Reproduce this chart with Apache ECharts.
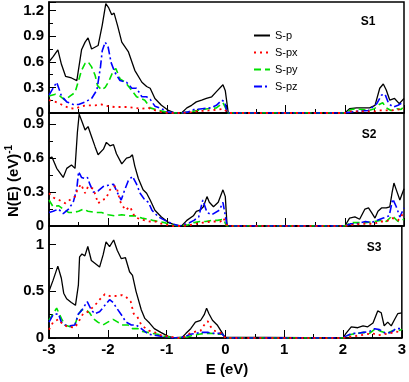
<!DOCTYPE html>
<html><head><meta charset="utf-8">
<script src="https://cdn.jsdelivr.net/npm/echarts@6/dist/echarts.min.js"></script>
<style>html,body{margin:0;padding:0;background:#fff}#c{width:409px;height:382px}</style>
</head><body><div id="c"></div>
<script>
// ---- data: [E (eV), N(E)] ----
var seriesNames = ['S-p', 'S-px', 'S-py', 'S-pz'];
var panelLabels = ['S1', 'S2', 'S3'];
var xTicks = { min: -3, max: 3, interval: 1 };
var yRanges = [ {max: 1.3, interval: 0.3}, {max: 1.0, interval: 0.3}, {max: 1.2, interval: 0.5} ];

var s1_p = [[-3.0,0.60],[-2.93,0.66],[-2.85,0.74],[-2.79,0.57],[-2.72,0.43],[-2.62,0.41],[-2.53,0.38],[-2.45,0.74],[-2.39,0.83],[-2.34,0.88],[-2.28,0.75],[-2.17,0.79],[-2.10,1.03],[-2.04,1.28],[-1.99,1.23],[-1.94,1.15],[-1.90,1.17],[-1.84,1.02],[-1.77,0.83],[-1.66,0.72],[-1.55,0.50],[-1.43,0.36],[-1.35,0.31],[-1.29,0.29],[-1.21,0.17],[-1.10,0.09],[-0.98,0.03],[-0.87,0],[-0.76,0],[-0.67,0.06],[-0.59,0.09],[-0.51,0.13],[-0.42,0.15],[-0.34,0.17],[-0.25,0.19],[-0.17,0.25],[-0.06,0.33],[-0.02,0.26],[0.03,0],[2.0,0],[2.08,0.05],[2.20,0.06],[2.31,0.06],[2.42,0.06],[2.51,0.09],[2.59,0.29],[2.65,0.34],[2.70,0.27],[2.76,0.15],[2.84,0.17],[2.92,0.11],[3.0,0.17]];
var s1_px = [[-3.0,0.15],[-2.89,0.13],[-2.79,0.10],[-2.67,0.06],[-2.56,0.05],[-2.45,0.08],[-2.34,0.09],[-2.22,0.09],[-2.11,0.10],[-2.0,0.08],[-1.89,0.07],[-1.77,0.07],[-1.66,0.07],[-1.55,0.06],[-1.43,0.05],[-1.32,0.06],[-1.2,0.03],[-1.1,0.01],[-0.95,0],[-0.75,0],[-0.6,0.01],[-0.5,0.02],[-0.3,0.03],[-0.15,0.04],[-0.05,0.05],[0.0,0.02],[0.05,0],[2.0,0],[2.1,0.02],[2.3,0.02],[2.5,0.02],[2.6,0.03],[2.8,0.03],[3.0,0.05]];
var s1_py = [[-3.0,0.20],[-2.89,0.22],[-2.82,0.20],[-2.73,0.15],[-2.64,0.20],[-2.56,0.24],[-2.50,0.38],[-2.45,0.50],[-2.39,0.58],[-2.34,0.60],[-2.28,0.54],[-2.22,0.44],[-2.18,0.32],[-2.11,0.27],[-2.05,0.30],[-1.99,0.37],[-1.91,0.50],[-1.87,0.52],[-1.80,0.40],[-1.71,0.36],[-1.63,0.29],[-1.52,0.19],[-1.38,0.15],[-1.29,0.06],[-1.15,0.03],[-1.0,0.01],[-0.87,0],[-0.76,0],[-0.66,0.01],[-0.49,0.03],[-0.32,0.05],[-0.17,0.06],[-0.06,0.12],[-0.01,0.05],[0.02,0],[2.0,0],[2.1,0.04],[2.2,0.05],[2.3,0.04],[2.4,0.03],[2.5,0.05],[2.58,0.10],[2.64,0.12],[2.70,0.06],[2.78,0.03],[2.88,0.05],[2.95,0.04],[3.0,0.08]];
var s1_pz = [[-3.0,0.21],[-2.87,0.36],[-2.79,0.20],[-2.70,0.13],[-2.59,0.10],[-2.50,0.10],[-2.39,0.13],[-2.28,0.17],[-2.19,0.27],[-2.13,0.54],[-2.10,0.73],[-2.05,0.83],[-2.0,0.77],[-1.95,0.59],[-1.89,0.48],[-1.80,0.38],[-1.69,0.36],[-1.60,0.29],[-1.52,0.29],[-1.43,0.19],[-1.35,0.19],[-1.29,0.16],[-1.21,0.08],[-1.10,0.05],[-0.98,0.01],[-0.87,0],[-0.76,0],[-0.66,0.01],[-0.55,0.04],[-0.41,0.05],[-0.27,0.06],[-0.17,0.09],[-0.08,0.15],[-0.03,0.13],[0.01,0],[2.0,0],[2.2,0.02],[2.4,0.03],[2.54,0.11],[2.62,0.21],[2.68,0.22],[2.74,0.11],[2.82,0.07],[2.9,0.09],[3.0,0.13]];

var s2_p = [[-3.0,0.60],[-2.95,0.61],[-2.87,0.51],[-2.76,0.43],[-2.70,0.51],[-2.62,0.54],[-2.56,0.51],[-2.52,0.83],[-2.49,0.99],[-2.44,0.92],[-2.39,0.85],[-2.34,0.88],[-2.28,0.79],[-2.22,0.70],[-2.17,0.63],[-2.08,0.68],[-2.03,0.74],[-1.97,0.71],[-1.91,0.72],[-1.86,0.64],[-1.77,0.55],[-1.69,0.60],[-1.63,0.61],[-1.59,0.63],[-1.55,0.53],[-1.49,0.42],[-1.41,0.32],[-1.35,0.29],[-1.29,0.23],[-1.21,0.14],[-1.10,0.08],[-0.98,0.03],[-0.87,0.01],[-0.76,0],[-0.67,0.05],[-0.56,0.09],[-0.51,0.13],[-0.45,0.14],[-0.39,0.17],[-0.33,0.26],[-0.29,0.21],[-0.22,0.17],[-0.14,0.21],[-0.06,0.32],[-0.02,0.26],[0.01,0],[2.0,0],[2.08,0.07],[2.17,0.08],[2.25,0.06],[2.34,0.15],[2.40,0.16],[2.45,0.12],[2.51,0.07],[2.56,0.13],[2.62,0.16],[2.70,0.16],[2.76,0.17],[2.80,0.30],[2.83,0.38],[2.87,0.32],[2.93,0.23],[3.0,0.33]];
var s2_px = [[-3.0,0.29],[-2.92,0.25],[-2.83,0.23],[-2.72,0.20],[-2.65,0.23],[-2.56,0.26],[-2.52,0.32],[-2.46,0.37],[-2.39,0.29],[-2.34,0.35],[-2.25,0.33],[-2.17,0.20],[-2.11,0.23],[-2.04,0.24],[-1.97,0.32],[-1.91,0.35],[-1.86,0.35],[-1.80,0.22],[-1.71,0.14],[-1.63,0.17],[-1.55,0.08],[-1.46,0.06],[-1.38,0.05],[-1.3,0.04],[-1.2,0.04],[-1.1,0.02],[-1.0,0.01],[-0.9,0],[-0.75,0],[-0.6,0.01],[-0.5,0.02],[-0.4,0.03],[-0.25,0.04],[-0.1,0.04],[-0.05,0.07],[0.0,0.01],[0.05,0],[2.0,0],[2.1,0.01],[2.3,0.02],[2.5,0.02],[2.6,0.04],[2.7,0.04],[2.8,0.07],[2.9,0.05],[3.0,0.12]];
var s2_py = [[-3.0,0.23],[-2.93,0.17],[-2.84,0.18],[-2.76,0.15],[-2.67,0.12],[-2.59,0.12],[-2.50,0.13],[-2.42,0.15],[-2.34,0.13],[-2.22,0.12],[-2.11,0.12],[-2.0,0.10],[-1.88,0.09],[-1.77,0.10],[-1.66,0.09],[-1.55,0.09],[-1.43,0.07],[-1.32,0.06],[-1.25,0.05],[-1.15,0.04],[-1.05,0.03],[-0.95,0.01],[-0.8,0],[-0.65,0.01],[-0.55,0.03],[-0.45,0.04],[-0.35,0.04],[-0.25,0.05],[-0.15,0.05],[-0.05,0.06],[0.0,0],[2.0,0],[2.1,0.03],[2.2,0.03],[2.35,0.03],[2.5,0.04],[2.6,0.05],[2.7,0.04],[2.8,0.09],[2.9,0.04],[3.0,0.06]];
var s2_pz = [[-3.0,0.12],[-2.93,0.13],[-2.84,0.15],[-2.76,0.11],[-2.67,0.15],[-2.59,0.21],[-2.53,0.33],[-2.50,0.48],[-2.45,0.43],[-2.39,0.42],[-2.35,0.43],[-2.31,0.37],[-2.25,0.30],[-2.17,0.31],[-2.08,0.35],[-2.0,0.36],[-1.91,0.37],[-1.84,0.29],[-1.78,0.23],[-1.72,0.32],[-1.66,0.40],[-1.59,0.44],[-1.52,0.37],[-1.46,0.29],[-1.38,0.23],[-1.32,0.21],[-1.26,0.14],[-1.15,0.08],[-1.04,0.05],[-0.92,0.02],[-0.8,0],[-0.66,0.02],[-0.55,0.05],[-0.47,0.08],[-0.40,0.23],[-0.33,0.12],[-0.25,0.10],[-0.12,0.14],[-0.06,0.21],[-0.03,0.12],[0.01,0],[2.0,0],[2.1,0.02],[2.2,0.02],[2.35,0.04],[2.45,0.03],[2.55,0.05],[2.65,0.07],[2.75,0.09],[2.81,0.24],[2.87,0.17],[2.93,0.08],[3.0,0.16]];

var s3_p = [[-3.0,0.50],[-2.93,0.62],[-2.85,0.77],[-2.79,0.64],[-2.75,0.48],[-2.70,0.42],[-2.62,0.38],[-2.55,0.35],[-2.50,0.57],[-2.48,0.87],[-2.44,0.90],[-2.39,0.88],[-2.34,0.98],[-2.28,0.83],[-2.22,0.80],[-2.14,0.76],[-2.08,0.89],[-2.03,1.03],[-1.97,0.98],[-1.90,1.05],[-1.84,0.94],[-1.77,0.85],[-1.70,0.86],[-1.63,0.71],[-1.58,0.67],[-1.52,0.50],[-1.43,0.30],[-1.37,0.21],[-1.29,0.16],[-1.21,0.10],[-1.10,0.06],[-0.98,0.02],[-0.87,0],[-0.73,0.01],[-0.67,0.05],[-0.59,0.10],[-0.51,0.17],[-0.42,0.19],[-0.36,0.25],[-0.32,0.32],[-0.28,0.26],[-0.22,0.19],[-0.14,0.14],[-0.06,0.06],[-0.01,0.01],[0.02,0],[2.0,0],[2.05,0.05],[2.14,0.12],[2.25,0.11],[2.34,0.13],[2.42,0.12],[2.51,0.16],[2.59,0.29],[2.65,0.27],[2.70,0.13],[2.76,0.17],[2.82,0.13],[2.87,0.19],[2.93,0.26],[3.0,0.27]];
var s3_px = [[-3.0,0.09],[-2.93,0.17],[-2.84,0.20],[-2.76,0.14],[-2.67,0.12],[-2.56,0.11],[-2.50,0.17],[-2.42,0.26],[-2.34,0.28],[-2.22,0.35],[-2.14,0.41],[-2.05,0.47],[-1.97,0.45],[-1.88,0.45],[-1.76,0.46],[-1.69,0.44],[-1.61,0.39],[-1.56,0.26],[-1.50,0.23],[-1.43,0.14],[-1.35,0.10],[-1.3,0.08],[-1.2,0.06],[-1.1,0.03],[-1.0,0.02],[-0.9,0.01],[-0.8,0],[-0.7,0.01],[-0.6,0.05],[-0.5,0.07],[-0.42,0.08],[-0.35,0.15],[-0.3,0.18],[-0.25,0.12],[-0.2,0.08],[-0.1,0.06],[-0.05,0.04],[0.0,0],[0.05,0],[2.0,0],[2.1,0.01],[2.2,0.02],[2.3,0.03],[2.4,0.04],[2.5,0.05],[2.6,0.03],[2.7,0.04],[2.8,0.05],[2.9,0.07],[3.0,0.06]];
var s3_py = [[-3.0,0.19],[-2.95,0.24],[-2.87,0.32],[-2.79,0.21],[-2.73,0.14],[-2.64,0.12],[-2.56,0.14],[-2.50,0.25],[-2.45,0.30],[-2.37,0.30],[-2.31,0.27],[-2.25,0.21],[-2.17,0.17],[-2.08,0.14],[-2.0,0.17],[-1.91,0.20],[-1.83,0.17],[-1.76,0.14],[-1.66,0.14],[-1.58,0.10],[-1.49,0.10],[-1.41,0.07],[-1.32,0.06],[-1.25,0.05],[-1.15,0.04],[-1.05,0.02],[-0.95,0.01],[-0.85,0],[-0.65,0.01],[-0.55,0.03],[-0.45,0.04],[-0.35,0.05],[-0.25,0.05],[-0.15,0.04],[-0.05,0.04],[0.0,0],[2.0,0],[2.05,0.02],[2.15,0.04],[2.25,0.05],[2.35,0.06],[2.45,0.05],[2.55,0.10],[2.65,0.07],[2.75,0.05],[2.85,0.08],[2.95,0.08],[3.0,0.09]];
var s3_pz = [[-3.0,0.17],[-2.93,0.25],[-2.84,0.26],[-2.79,0.17],[-2.73,0.14],[-2.64,0.13],[-2.56,0.14],[-2.50,0.26],[-2.45,0.29],[-2.39,0.35],[-2.35,0.39],[-2.28,0.30],[-2.22,0.26],[-2.14,0.28],[-2.05,0.35],[-1.97,0.41],[-1.91,0.38],[-1.86,0.33],[-1.77,0.25],[-1.69,0.17],[-1.60,0.14],[-1.52,0.14],[-1.43,0.10],[-1.35,0.06],[-1.3,0.04],[-1.2,0.03],[-1.1,0.02],[-1.0,0.01],[-0.9,0],[-0.7,0.01],[-0.6,0.04],[-0.5,0.05],[-0.4,0.06],[-0.3,0.06],[-0.2,0.05],[-0.1,0.05],[-0.05,0.04],[0.0,0],[2.0,0],[2.05,0.02],[2.15,0.05],[2.25,0.05],[2.35,0.06],[2.45,0.07],[2.54,0.10],[2.62,0.09],[2.72,0.05],[2.82,0.06],[2.9,0.10],[3.0,0.10]];

var panels = [
  [s1_p, s1_px, s1_py, s1_pz],
  [s2_p, s2_px, s2_py, s2_pz],
  [s3_p, s3_px, s3_py, s3_pz]
];

// ---- styling ----
var FONT = 'Liberation Sans, Arial, sans-serif';
var styles = [
  {color: '#000000', type: 'solid', width: 1.3, z: 3},
  {color: '#ff0000', type: [2, 4], width: 1.8, z: 6},
  {color: '#00e000', type: [7, 4], width: 1.6, z: 4},
  {color: '#0000ff', type: [8, 3, 2, 3], width: 1.6, z: 5}
];
var grids = [
  {left: 49, right: 5, top: 2, height: 111},
  {left: 49, right: 5, top: 113, height: 113},
  {left: 49, right: 5, top: 226, height: 112}
];

var option = {
  animation: false,
  backgroundColor: '#fff',
  grid: grids.map(function (g) {
    return Object.assign({show: true, borderColor: '#000', borderWidth: 1.5, backgroundColor: 'transparent', containLabel: false}, g);
  }),
  legend: {
    data: seriesNames,
    orient: 'vertical',
    left: 248, top: 25,
    itemWidth: 16, itemHeight: 10, itemGap: 6,
    itemStyle: {opacity: 0},
    textStyle: {fontFamily: FONT, fontSize: 11, color: '#000'},
    backgroundColor: 'transparent'
  },
  xAxis: grids.map(function (g, i) {
    return {
      type: 'value', gridIndex: i, min: xTicks.min, max: xTicks.max, interval: xTicks.interval,
      axisLine: {show: true, onZero: false, lineStyle: {color: '#000', width: 1.5}},
      axisTick: {show: true, inside: true, length: 8, lineStyle: {color: '#000', width: 1}},
      minorTick: {show: true, splitNumber: 2, length: 4, lineStyle: {color: '#000', width: 1}},
      splitLine: {show: false},
      axisLabel: {show: i === 2, margin: 4, fontFamily: FONT, fontSize: 15, fontWeight: 'bold', color: '#000'}
    };
  }),
  yAxis: yRanges.map(function (r, i) {
    return {
      type: 'value', gridIndex: i, min: 0, max: r.max, interval: r.interval,
      axisLine: {show: true, onZero: false, lineStyle: {color: '#000', width: 1.5}},
      axisTick: {show: true, inside: true, length: 7, lineStyle: {color: '#000', width: 1}},
      minorTick: {show: true, splitNumber: 2, length: 4, lineStyle: {color: '#000', width: 1}},
      splitLine: {show: false},
      axisLabel: {showMaxLabel: false, margin: 5, fontFamily: FONT, fontSize: 15, fontWeight: 'bold', color: '#000',
        formatter: function (v) { return String(Math.round(v * 10) / 10); }}
    };
  }),
  series: [],
  graphic: [
    {type: 'text', x: 14, y: 181, rotation: Math.PI / 2,
      style: {text: '{a|N(E) (eV)}{b|-1}', textAlign: 'center', textVerticalAlign: 'middle', fill: '#000',
        rich: {a: {fontFamily: FONT, fontSize: 15, fontWeight: 'bold', lineHeight: 20},
               b: {fontFamily: FONT, fontSize: 10, fontWeight: 'bold', lineHeight: 10, verticalAlign: 'top'}}}},
    {type: 'text', x: 227, y: 370,
      style: {text: 'E (eV)', textAlign: 'center', textVerticalAlign: 'middle', fill: '#000',
        font: 'bold 15px ' + FONT}}
  ]
};

var labelPos = [[368, 22], [369, 135], [374, 248]];
panelLabels.forEach(function (t, i) {
  option.graphic.push({type: 'text', x: labelPos[i][0], y: labelPos[i][1],
    style: {text: t, textAlign: 'center', textVerticalAlign: 'middle', fill: '#000', font: 'bold 12px ' + FONT}});
});

panels.forEach(function (arrs, gi) {
  arrs.forEach(function (d, si) {
    var s = styles[si];
    option.series.push({
      name: seriesNames[si], type: 'line', xAxisIndex: gi, yAxisIndex: gi,
      data: d, symbol: 'none', showSymbol: false, z: s.z,
      color: s.color,
      lineStyle: {color: s.color, width: s.width, type: s.type, cap: 'butt'}
    });
  });
});

var chart = echarts.init(document.getElementById('c'), null, {renderer: 'canvas'});
chart.setOption(option);
</script>
</body></html>
